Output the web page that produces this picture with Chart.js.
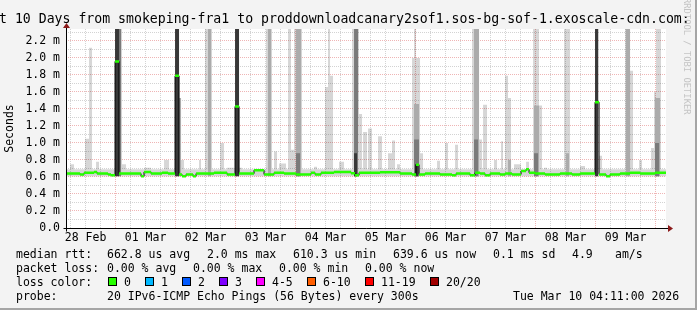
<!DOCTYPE html>
<html>
<head>
<meta charset="utf-8">
<title>smokeping-fra1 - proddownloadcanary2sof1</title>
<script src="https://cdn.jsdelivr.net/npm/chart.js@4.4.1/dist/chart.umd.min.js"></script>
<style>
  html, body { margin: 0; padding: 0; background: #f3f3f3; }
  #frame { position: relative; width: 697px; height: 310px; overflow: hidden; background: #f3f3f3;
           font-family: "DejaVu Sans Mono", monospace; font-size: 11.5px; color: #000; }
  #chart { position: absolute; left: 0; top: 0; }
  .txt { position: absolute; white-space: pre; line-height: 14px; }
  #title { position: absolute; left: -1px; top: 11px; font-size: 13.2px; line-height: 16px; white-space: pre; }
  #brand { position: absolute; left: 682px; top: -2px; writing-mode: vertical-rl; font-size: 8.8px;
           line-height: 10px; color: #c4c4c4; white-space: pre; }
  .sw { position: absolute; width: 7px; height: 7px; border: 1px solid #000; top: 277px; }
  #edgeR { position: absolute; right: 0; top: 0; width: 2px; height: 310px; background: #a5a5a5; }
  #edgeB { position: absolute; left: 0; bottom: 0; width: 697px; height: 2px; background: #a5a5a5; }
</style>
</head>
<body>
<div id="frame">
  <canvas id="chart" width="697" height="310"></canvas>
  <div id="title">t 10 Days from smokeping-fra1 to proddownloadcanary2sof1.sos-bg-sof-1.exoscale-cdn.com:</div>
  <div id="brand">RRDTOOL / TOBI OETIKER</div>
  <div id="legend"></div>
  <div id="edgeR"></div>
  <div id="edgeB"></div>
</div>
<script>
// time axis in hours since 28 Feb 00:00, graph ends Tue Mar 10 04:11
const startHour = 4 + 11 / 60;
const endHour = startHour + 240;
const yMax = 2.341;          // ms
const smokeBase = 0.61;      // bottom of the smoke (min rtt)
const lightRest = 0.69;      // normal spread of the 20 pings

const dayLabels = ['28 Feb', '01 Mar', '02 Mar', '03 Mar', '04 Mar', '05 Mar', '06 Mar', '07 Mar', '08 Mar', '09 Mar'];

// median rtt [hour, ms] - value holds until the next entry
const medianRtt = [
  [4.1, 0.64], [9.8, 0.63], [11.4, 0.65], [15.4, 0.66], [16.6, 0.64], [21.0, 0.63], [22.2, 0.62],
  [23.8, 1.96], [25.4, 0.64], [34.2, 0.61], [35.4, 0.66], [38.2, 0.64], [42.6, 0.65], [45.0, 0.64],
  [47.8, 1.79], [49.4, 0.63], [50.6, 0.61], [52.2, 0.63], [55.0, 0.61], [56.2, 0.64], [63.4, 0.65],
  [68.6, 0.63], [71.8, 1.43], [73.4, 0.64], [79.4, 0.68], [83.4, 0.63], [87.4, 0.65], [91.4, 0.64],
  [96.2, 0.63], [102.2, 0.65], [103.8, 0.63], [106.2, 0.65], [111.4, 0.66], [118.2, 0.645], [119.8, 0.62],
  [121.4, 0.65], [129.8, 0.655], [137.8, 0.64], [142.6, 0.63], [144.2, 0.745], [145.4, 0.63], [147.8, 0.64],
  [153.8, 0.63], [158.6, 0.62], [160.2, 0.64], [165.8, 0.62], [167.8, 0.65], [169.8, 0.64], [171.8, 0.62],
  [173.8, 0.64], [177.8, 0.63], [179.8, 0.64], [182.6, 0.63], [186.2, 0.67], [188.2, 0.69], [189.4, 0.65],
  [191.8, 0.64], [195.8, 0.63], [201.8, 0.64], [206.6, 0.63], [209.8, 0.64], [215.8, 1.48], [217.4, 0.63],
  [220.2, 0.61], [221.8, 0.63], [225.8, 0.64], [229.8, 0.65], [233.8, 0.64], [239.8, 0.65]
];

// smoke columns [from hour, to hour, top ms]
const lightSmoke = [
  [5.8, 7.4, 0.75], [11.8, 13.4, 1.05], [13.4, 14.6, 2.12], [16.2, 17.4, 0.78], [23.8, 26.6, 2.4],
  [26.6, 28.2, 0.75], [35.4, 38.2, 0.71], [43.4, 45.4, 0.80], [49.4, 51.4, 0.80], [57.4, 58.2, 0.80],
  [59.8, 62.6, 2.4], [65.8, 67.4, 1.0], [68.6, 71.4, 0.71], [73.4, 74.6, 0.71], [84.2, 86.6, 2.4],
  [87.4, 88.6, 0.9], [89.4, 92.2, 0.76], [93.0, 94.2, 2.4], [94.2, 95.4, 0.92], [95.4, 98.6, 2.4],
  [103.4, 104.6, 0.72], [107.8, 109.0, 1.66], [109.0, 109.8, 2.4], [109.8, 111.0, 1.79], [113.4, 115.4, 0.78],
  [118.6, 121.4, 2.4], [121.4, 122.6, 1.34], [123.0, 124.6, 1.13], [125.0, 126.6, 1.17], [129.0, 130.6, 1.08],
  [133.0, 134.6, 0.88], [134.6, 135.8, 1.03], [136.6, 137.8, 0.75], [142.6, 143.4, 2.0], [143.4, 144.2, 2.4],
  [144.2, 145.8, 2.0], [145.8, 147.0, 0.88], [152.6, 153.8, 0.79], [155.8, 157.0, 1.0], [159.8, 161.0, 0.98],
  [166.6, 169.4, 2.4], [169.4, 170.6, 1.04], [171.0, 172.6, 1.45], [175.4, 176.6, 0.8], [178.2, 179.0, 1.02],
  [179.8, 181.0, 1.79], [181.0, 182.2, 1.53], [183.4, 186.2, 0.75], [188.2, 189.4, 0.78], [191.0, 193.4, 2.4],
  [193.4, 194.6, 1.44], [195.4, 196.6, 0.71], [203.4, 205.8, 2.4], [209.8, 211.8, 0.73], [215.8, 217.4, 2.4],
  [217.4, 218.6, 0.85], [227.8, 229.8, 2.4], [229.8, 231.0, 1.85], [233.4, 234.6, 0.8], [238.2, 239.4, 0.94],
  [239.4, 240.2, 1.6], [240.2, 242.2, 2.4]
];
const midSmoke = [
  [49.4, 50.2, 1.53], [61.0, 62.2, 2.4], [85.0, 86.2, 2.4], [96.2, 98.2, 2.4], [143.4, 145.4, 1.46],
  [167.4, 169.4, 2.4], [181.0, 182.2, 0.8], [191.4, 193.4, 1.44], [204.2, 205.4, 0.88], [228.2, 229.8, 2.4],
  [239.8, 241.8, 1.53]
];
const darkSmoke = [
  [25.4, 26.2, 2.4], [96.2, 97.8, 0.88], [119.4, 121.0, 2.4], [143.4, 145.4, 1.04], [167.4, 169.0, 1.04],
  [191.4, 193.0, 0.88], [239.8, 241.4, 1.0]
];
const blackSmoke = [
  [23.8, 25.4, 2.4], [47.8, 49.4, 2.4], [71.8, 73.4, 2.4], [119.4, 120.6, 0.88], [143.8, 145.0, 0.75],
  [215.8, 217.0, 2.4]
];

const lossLabels = ['0', '1', '2', '3', '4-5', '6-10', '11-19', '20/20'];
const lossColors = ['#26ff00', '#00b8ff', '#0059ff', '#7e00ff', '#ff00ff', '#ff5e00', '#ff0000', '#a10000'];

function stepLayer(ranges, rest) {
  const pts = [{ x: startHour, y: rest }];
  ranges.forEach(([from, to, top]) => {
    pts.push({ x: from, y: top }, { x: to, y: rest });
  });
  pts.push({ x: endHour, y: rest });
  return pts;
}

const medianLine = medianRtt.map(([x, y]) => ({ x, y }));
medianLine.push({ x: endHour, y: medianRtt[medianRtt.length - 1][1] });

// green swath: only the flat parts, the steps stay black
const medianSwath = [];
medianRtt.forEach(([x, y], i) => {
  const next = i + 1 < medianRtt.length ? medianRtt[i + 1][0] : endHour;
  medianSwath.push({ x, y }, { x: next, y }, { x: next, y: null });
});

function smokeSet(data, color, order) {
  return {
    data, order, stepped: true, borderWidth: 0, pointRadius: 0,
    backgroundColor: color, fill: { value: smokeBase }
  };
}

const gridHours = [];
for (let h = 6; h <= 240; h += 6) gridHours.push(h);
const yGrid = [];
for (let k = 0; k <= 23; k++) yGrid.push(k / 10);

const monoFont = { family: 'DejaVu Sans Mono', size: 11.5 };
const redGrid = 'rgba(225, 120, 120, 0.55)';
const grayGrid = 'rgba(175, 175, 175, 0.55)';

const plotFrame = {
  id: 'plotFrame',
  beforeDraw(chart) {
    const { ctx, chartArea: a } = chart;
    ctx.save();
    ctx.fillStyle = '#ffffff';
    ctx.fillRect(a.left, a.top, a.right - a.left, a.bottom - a.top);
    ctx.restore();
  },
  afterDraw(chart) {
    const { ctx, chartArea: a } = chart;
    const x0 = Math.round(a.left) + 0.5, y0 = Math.round(a.bottom) + 0.5;
    ctx.save();
    ctx.strokeStyle = '#000';
    ctx.lineWidth = 1;
    ctx.beginPath();
    ctx.moveTo(x0 - 3, y0); ctx.lineTo(a.right + 3, y0);
    ctx.moveTo(x0, y0 + 3); ctx.lineTo(x0, a.top - 2);
    ctx.stroke();
    ctx.fillStyle = '#8b1a1a';
    ctx.beginPath();
    ctx.moveTo(a.right + 2, y0 - 3.5); ctx.lineTo(a.right + 7, y0); ctx.lineTo(a.right + 2, y0 + 3.5);
    ctx.closePath(); ctx.fill();
    ctx.beginPath();
    ctx.moveTo(x0 - 3.5, a.top - 1); ctx.lineTo(x0, a.top - 6); ctx.lineTo(x0 + 3.5, a.top - 1);
    ctx.closePath(); ctx.fill();
    ctx.restore();
  }
};

new Chart(document.getElementById('chart'), {
  type: 'line',
  data: {
    datasets: [
      smokeSet(stepLayer(lightSmoke, lightRest), 'rgba(0, 0, 0, 0.16)', 6),
      smokeSet(stepLayer(midSmoke, smokeBase), '#ababab', 5),
      smokeSet(stepLayer(darkSmoke, smokeBase), '#7a7a7a', 4),
      smokeSet(stepLayer(blackSmoke, smokeBase), '#383838', 3),
      { data: medianLine, order: 2, stepped: true, borderColor: '#000', borderWidth: 1, pointRadius: 0, fill: false },
      { data: medianSwath, order: 1, borderColor: '#26ff00', borderWidth: 2.5, borderCapStyle: 'butt',
        pointRadius: 0, fill: false, spanGaps: false }
    ]
  },
  options: {
    responsive: false,
    animation: false,
    devicePixelRatio: 1,
    events: [],
    layout: { padding: { top: 29, right: 31, left: 0, bottom: 0 } },
    plugins: { legend: { display: false }, tooltip: { enabled: false } },
    scales: {
      x: {
        type: 'linear',
        min: startHour,
        max: endHour,
        afterBuildTicks: (scale) => { scale.ticks = gridHours.map(v => ({ value: v })); },
        afterFit: (scale) => { scale.height = 82; },
        ticks: {
          autoSkip: false, maxRotation: 0, padding: 3, color: '#000', font: monoFont,
          callback: (v) => (v % 24 === 12 ? dayLabels[(v - 12) / 24] : '')
        },
        grid: {
          drawTicks: false,
          color: (ctx) => (ctx.tick && ctx.tick.value % 24 === 0 ? redGrid : grayGrid)
        },
        border: { display: false, dash: [1, 1] }
      },
      y: {
        min: 0,
        max: yMax,
        afterBuildTicks: (scale) => { scale.ticks = yGrid.map(v => ({ value: v })); },
        afterFit: (scale) => { scale.width = 66; },
        ticks: {
          autoSkip: false, padding: 6, color: '#000', font: monoFont,
          callback: (v) => {
            const k = Math.round(v * 10);
            if (k % 2) return '';
            return k === 0 ? '0.0' : (k / 10).toFixed(1) + ' m';
          }
        },
        grid: {
          drawTicks: false,
          color: (ctx) => (ctx.tick && Math.round(ctx.tick.value * 10) % 2 === 0 ? redGrid : grayGrid)
        },
        border: { display: false, dash: [1, 1] },
        title: { display: true, text: 'Seconds', color: '#000', font: monoFont, padding: { top: 3.6, bottom: 0 } }
      }
    }
  },
  plugins: [plotFrame]
});

// legend block under the graph
const legend = document.getElementById('legend');
function put(text, left, top) {
  const d = document.createElement('div');
  d.className = 'txt';
  d.textContent = text;
  d.style.left = left + 'px';
  d.style.top = top + 'px';
  legend.appendChild(d);
}
put('median rtt:', 16, 247);
put('662.8 us avg', 107, 247);
put('2.0 ms max', 207, 247);
put('610.3 us min', 293, 247);
put('639.6 us now', 393, 247);
put('0.1 ms sd', 493, 247);
put('4.9', 572, 247);
put('am/s', 615, 247);

put('packet loss:', 16, 261);
put('0.00 % avg', 107, 261);
put('0.00 % max', 193, 261);
put('0.00 % min', 279, 261);
put('0.00 % now', 365, 261);

put('loss color:', 16, 275);
const swatchLeft = [108, 145, 182, 219, 256, 307, 365, 430];
lossLabels.forEach((label, i) => {
  const box = document.createElement('div');
  box.className = 'sw';
  box.style.left = swatchLeft[i] + 'px';
  box.style.background = lossColors[i];
  legend.appendChild(box);
  put(label, swatchLeft[i] + 16, 275);
});

put('probe:', 16, 289);
put('20 IPv6-ICMP Echo Pings (56 Bytes) every 300s', 107, 289);
put('Tue Mar 10 04:11:00 2026', 513, 289);
</script>
</body>
</html>
